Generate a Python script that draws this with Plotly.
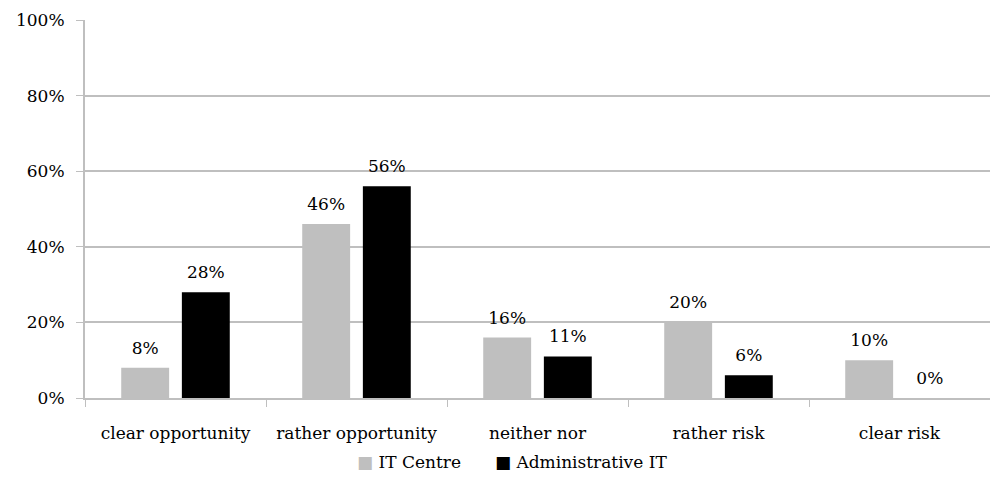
import plotly.graph_objects as go

categories = ["clear opportunity", "rather opportunity", "neither nor", "rather risk", "clear risk"]
it_centre = [8, 46, 16, 20, 10]
admin_it = [28, 56, 11, 6, 0]
series_names = ["IT Centre", "Administrative IT"]
series_colors = ["#BFBFBF", "#000000"]
y_ticks = [0, 20, 40, 60, 80, 100]

GRAY = "#BFBFBF"
SERIF = "DejaVu Serif, serif"
FONT = dict(family=SERIF, size=17, color="#000000")

fig = go.Figure()
for name, vals, color, grp in [
    (series_names[0], it_centre, series_colors[0], "a"),
    (series_names[1], admin_it, series_colors[1], "b"),
]:
    fig.add_trace(go.Bar(
        x=categories, y=vals, name=name, marker=dict(color=color, line=dict(width=0)),
        offsetgroup=grp, showlegend=False,
    ))
for vals, grp in [(it_centre, "a"), (admin_it, "b")]:
    # value labels, grouped so they sit over their bars
    fig.add_trace(go.Scatter(
        x=categories, y=vals, mode="markers+text", text=[f"{v}%" for v in vals],
        textposition="top center", textfont=FONT, offsetgroup=grp,
        marker=dict(size=14, opacity=0), showlegend=False, hoverinfo="skip",
        cliponaxis=False,
    ))

# legend row: coloured square + series name
legend_text = "\u2003\u2003".join(
    f"<span style='color:{c}'>\u25A0</span> {n}" for n, c in zip(series_names, series_colors)
)
fig.add_annotation(
    text=legend_text, xref="paper", yref="paper", x=0.472, y=-0.169,
    xanchor="center", yanchor="middle", showarrow=False, font=FONT,
)

fig.update_layout(
    width=990, height=488,
    margin=dict(l=85, r=0, t=20, b=90, autoexpand=False),
    paper_bgcolor="white", plot_bgcolor="white",
    font=FONT,
    barmode="group", bargap=0.33, bargroupgap=0.21,
    scattermode="group", scattergap=0.33,
    showlegend=False,
)
fig.update_xaxes(
    type="category", tickson="boundaries", ticks="outside", ticklen=7, tickcolor=GRAY,
    showline=True, linecolor=GRAY, linewidth=2, showgrid=False, tickfont=FONT,
    ticklabelstandoff=19, tickangle=0, automargin=False,
)
fig.update_yaxes(
    range=[0, 100], tickvals=y_ticks, ticktext=[f"{v}%" for v in y_ticks],
    ticks="outside", ticklen=7, tickcolor=GRAY, showline=True, linecolor=GRAY, linewidth=2,
    showgrid=True, gridcolor=GRAY, gridwidth=1.5, zeroline=False, tickfont=FONT,
    ticklabelstandoff=8, automargin=False,
)
fig.write_html("out.html")
